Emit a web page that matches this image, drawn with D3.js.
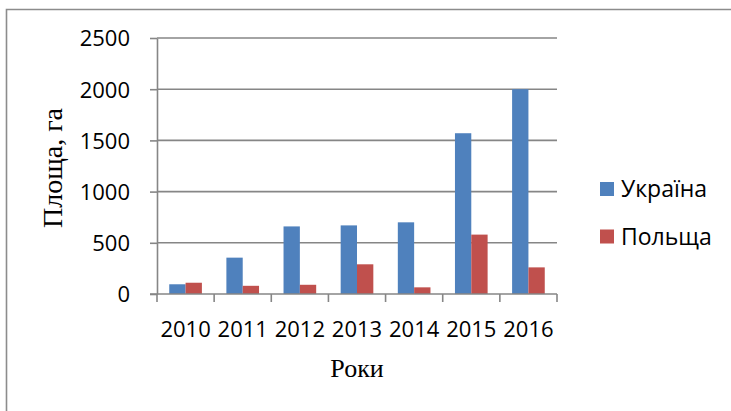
<!DOCTYPE html>
<html>
<head>
<meta charset="utf-8">
<script src="https://cdn.jsdelivr.net/npm/d3@7"></script>
<style>
  html, body { margin: 0; padding: 0; background: #fff; }
  svg { display: block; }
</style>
</head>
<body>
<svg id="chart" width="731" height="411"></svg>
<script>
// Площа, га — Україна та Польща, 2010–2016
const years = ["2010", "2011", "2012", "2013", "2014", "2015", "2016"];
const seriesNames = ["Україна", "Польща"];
const ukraine = [95, 355, 660, 670, 700, 1570, 2000];
const poland = [110, 80, 90, 290, 65, 580, 260];
const yTicks = [0, 500, 1000, 1500, 2000, 2500];
const colors = ["#4F81BD", "#C0504D"];

const sansFont = "'Open Sans', 'Noto Sans', sans-serif";
const serifFont = "'Liberation Serif', 'Times New Roman', serif";
const axisGrey = "#868686";
const labelSize = 22;

const svg = d3.select("#chart");

// chart frame (only top and left edges fall inside the page)
svg.append("path")
  .attr("d", "M6.5,411 V9.5 H731")
  .attr("fill", "none")
  .attr("stroke", "#8c8c8c")
  .attr("stroke-width", 1.6);

const plot = { left: 157, right: 557, top: 38, bottom: 294 };

const x = d3.scaleBand().domain(years).range([plot.left, plot.right]).padding(0);
const y = d3.scaleLinear().domain([0, 2500]).range([plot.bottom, plot.top]);

// clustered bars: two bars per category, gap of 150% of a bar width
const bw = x.bandwidth() / 3.5;
const sub = d3.scaleBand().domain(seriesNames)
  .range([bw * 0.75, bw * 2.75]).padding(0);

// gridlines
svg.append("g")
  .selectAll("line")
  .data(yTicks.filter(d => d > 0))
  .join("line")
  .attr("x1", plot.left).attr("x2", plot.right)
  .attr("y1", d => y(d)).attr("y2", d => y(d))
  .attr("stroke", axisGrey).attr("stroke-width", 1.6);

// y axis
const yAxis = svg.append("g")
  .attr("transform", `translate(${plot.left},0)`)
  .call(d3.axisLeft(y).tickValues(yTicks).tickFormat(d3.format("d"))
    .tickSize(7).tickSizeOuter(0).tickPadding(20));
yAxis.select(".domain").attr("stroke", axisGrey).attr("stroke-width", 1.6);
yAxis.selectAll(".tick line").attr("stroke", axisGrey).attr("stroke-width", 1.6);
yAxis.selectAll(".tick text")
  .attr("font-family", sansFont).attr("font-size", labelSize).attr("fill", "#000")
  .attr("dy", "0.36em");

// bars
const data = years.map((yr, i) => ({ year: yr, values: [ukraine[i], poland[i]] }));
const groups = svg.append("g").selectAll("g")
  .data(data)
  .join("g")
  .attr("transform", d => `translate(${x(d.year)},0)`);
groups.selectAll("rect")
  .data(d => d.values.map((v, k) => ({ name: seriesNames[k], value: v, k })))
  .join("rect")
  .attr("x", d => sub(d.name))
  .attr("width", sub.bandwidth())
  .attr("y", d => y(d.value))
  .attr("height", d => y(0) - y(d.value))
  .attr("fill", d => colors[d.k]);

// x axis: category labels
const xAxis = svg.append("g")
  .attr("transform", `translate(0,${plot.bottom})`)
  .call(d3.axisBottom(x).tickSize(0).tickPadding(27));
xAxis.select(".domain").remove();
xAxis.selectAll(".tick text")
  .attr("font-family", sansFont).attr("font-size", labelSize).attr("fill", "#000");

// x axis line and category boundary ticks
svg.append("line")
  .attr("x1", plot.left - 7).attr("x2", plot.right)
  .attr("y1", y(0)).attr("y2", y(0))
  .attr("stroke", axisGrey).attr("stroke-width", 1.6);
svg.append("g").selectAll("line")
  .data(years.map(d => x(d)).concat([plot.right]))
  .join("line")
  .attr("x1", d => d).attr("x2", d => d)
  .attr("y1", y(0)).attr("y2", y(0) + 8)
  .attr("stroke", axisGrey).attr("stroke-width", 1.6);

// axis titles
svg.append("text")
  .attr("x", (plot.left + plot.right) / 2)
  .attr("y", 377)
  .attr("text-anchor", "middle")
  .attr("font-family", serifFont).attr("font-size", 26).attr("fill", "#000")
  .text("Роки");
svg.append("text")
  .attr("transform", "translate(62,168) rotate(-90)")
  .attr("text-anchor", "middle")
  .attr("font-family", serifFont).attr("font-size", 28).attr("fill", "#000")
  .text("Площа, га");

// legend
const legend = svg.append("g").selectAll("g")
  .data(seriesNames)
  .join("g")
  .attr("transform", (d, i) => `translate(600,${182 + i * 47.5})`);
legend.append("rect")
  .attr("width", 14).attr("height", 14)
  .attr("fill", (d, i) => colors[i]);
legend.append("text")
  .attr("x", 21).attr("y", 15)
  .attr("font-family", sansFont).attr("font-size", 23).attr("fill", "#000")
  .text(d => d);
</script>
</body>
</html>
